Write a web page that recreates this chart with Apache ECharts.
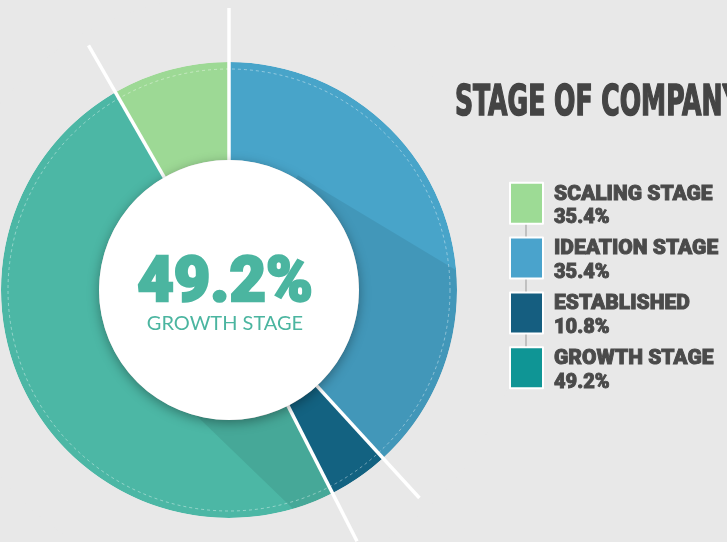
<!DOCTYPE html>
<html><head><meta charset="utf-8">
<script src="https://cdn.jsdelivr.net/npm/echarts@6/dist/echarts.min.js"></script>
<style>html,body{margin:0;padding:0;background:#e8e8e8;}#c{width:727px;height:542px;}</style>
</head><body><div id="c"></div>
<script>
// Slice order in the ring (clockwise from 12 o'clock)
const sliceNames = ['IDEATION STAGE', 'ESTABLISHED', 'GROWTH STAGE', 'SCALING STAGE'];
const sliceValues = [38.2, 4.3, 49.2, 8.3];
const sliceColors = ['#48a4c9', '#156b8c', '#4cb7a5', '#9dd995'];
// Legend (as printed)
const legendNames = ['SCALING STAGE', 'IDEATION STAGE', 'ESTABLISHED', 'GROWTH STAGE'];
const legendPcts = ['35.4%', '35.4%', '10.8%', '49.2%'];
const legendColors = ['#9ddb95', '#4aa3cc', '#155e80', '#0f9595'];
const title = 'STAGE OF COMPANY';
const centerValue = '49.2%';
const centerLabel = 'GROWTH STAGE';

const cx = 229, cy = 290, R = 228, r0 = 130;
const bg = '#e8e8e8';

const chart = echarts.init(document.getElementById('c'), null, {renderer: 'canvas'});

// separator lines from data
const total = sliceValues.reduce((a, b) => a + b, 0);
const lines = [];
let acc = 0;
const bounds = [0];
sliceValues.forEach((v, i) => { acc += v; if (i < sliceValues.length - 1) bounds.push(acc / total * 360); });
bounds.forEach(a => {
  const t = a * Math.PI / 180;
  lines.push({
    type: 'line', z: 53,
    shape: {x1: cx + (r0 - 5) * Math.sin(t), y1: cy - (r0 - 5) * Math.cos(t), x2: cx + 282 * Math.sin(t), y2: cy - 282 * Math.cos(t)},
    style: {stroke: '#ffffff', lineWidth: 3.5}
  });
});

// decorative long shadow of the centre disc
function pt(dist, deg) { const t = deg * Math.PI / 180; return [Math.cos(t) * dist, Math.sin(t) * dist]; }
const a1 = 31, a2 = 44;
const f1 = [cx + 134 * Math.sin(a1 * Math.PI / 180), cy - 134 * Math.cos(a1 * Math.PI / 180)];
const f2 = [cx - 113 * Math.sin(a2 * Math.PI / 180), cy + 113 * Math.cos(a2 * Math.PI / 180)];
const d1 = pt(1, a1), d2 = pt(1, a2);
const far1 = [f1[0] + 220 * d1[0], f1[1] + 220 * d1[1]];
const far2 = [f2[0] + 260 * d2[0], f2[1] + 260 * d2[1]];
const mid = [cx + 275 * Math.cos(Math.PI / 4), cy + 275 * Math.sin(Math.PI / 4)];

const heavy = 'Roboto';
const txt = '#4a4a4a';

const option = {
  backgroundColor: bg,
  animation: false,
  legend: {
    orient: 'vertical', left: 509, top: 181.75, z: 200, padding: 0,
    itemWidth: 33, itemHeight: 41, itemGap: 7.9, icon: 'rect',
    selectedMode: false,
    data: legendNames.map((n, i) => ({name: n, itemStyle: {color: legendColors[i], borderColor: '#ffffff', borderWidth: 2}})),
    formatter: function (name) { const i = legendNames.indexOf(name); return '{n|' + name + '}\n{v|' + legendPcts[i] + '}'; },
    textStyle: {
      padding: [6, 0, 0, 6],
      rich: {
        n: {fontFamily: heavy, fontWeight: 900, fontSize: 21, color: txt, textBorderColor: txt, textBorderWidth: 0.9, lineHeight: 24},
        v: {fontFamily: heavy, fontWeight: 900, fontSize: 20, color: txt, textBorderColor: txt, textBorderWidth: 0.9, lineHeight: 24}
      }
    }
  },
  series: [{
    type: 'pie', center: [cx, cy], radius: [r0, R], startAngle: 90, clockwise: true,
    label: {show: false}, labelLine: {show: false}, silent: true,
    itemStyle: {borderWidth: 0},
    data: sliceNames.map((n, i) => ({name: n, value: sliceValues[i], itemStyle: {color: sliceColors[i]}}))
  }],
  graphic: [
    {type: 'polygon', z: 50, shape: {points: [[cx, cy], f1, far1, mid, far2, f2]}, style: {fill: 'rgba(0,0,0,0.08)'}},
    {type: 'ring', z: 51, shape: {cx: cx, cy: cy, r: 295, r0: R}, style: {fill: bg}},
    {type: 'circle', z: 52, shape: {cx: cx, cy: cy, r: 221}, style: {fill: 'none', stroke: 'rgba(255,255,255,0.5)', lineWidth: 0.8, lineDash: [3, 3]}},
    ...lines,
    {type: 'circle', z: 54, shape: {cx: cx, cy: cy, r: r0}, style: {fill: '#ffffff', shadowBlur: 12, shadowColor: 'rgba(0,0,0,0.35)', shadowOffsetY: 3}},
    {type: 'text', z: 55, x: 225, y: 285, style: {text: centerValue, fill: '#4bb5a0', stroke: '#4bb5a0', lineWidth: 2.5, font: '900 63px ' + heavy, textAlign: 'center', textVerticalAlign: 'middle'}},
    {type: 'text', z: 55, x: 225, y: 324, style: {text: centerLabel, fill: '#4bb5a0', font: '400 20px Lato', textAlign: 'center', textVerticalAlign: 'middle'}},
    {type: 'text', z: 200, x: 455, y: 104, scaleX: 0.665, style: {text: title, fill: '#444444', stroke: '#444444', lineWidth: 1.5, font: 'bold 42px "DejaVu Sans Condensed", sans-serif', textAlign: 'left', textVerticalAlign: 'middle'}},
    {type: 'line', z: 150, shape: {x1: 526, y1: 222, x2: 526, y2: 352}, style: {stroke: '#999999', lineWidth: 1}}
  ]
};
chart.setOption(option);
</script>
</body></html>
